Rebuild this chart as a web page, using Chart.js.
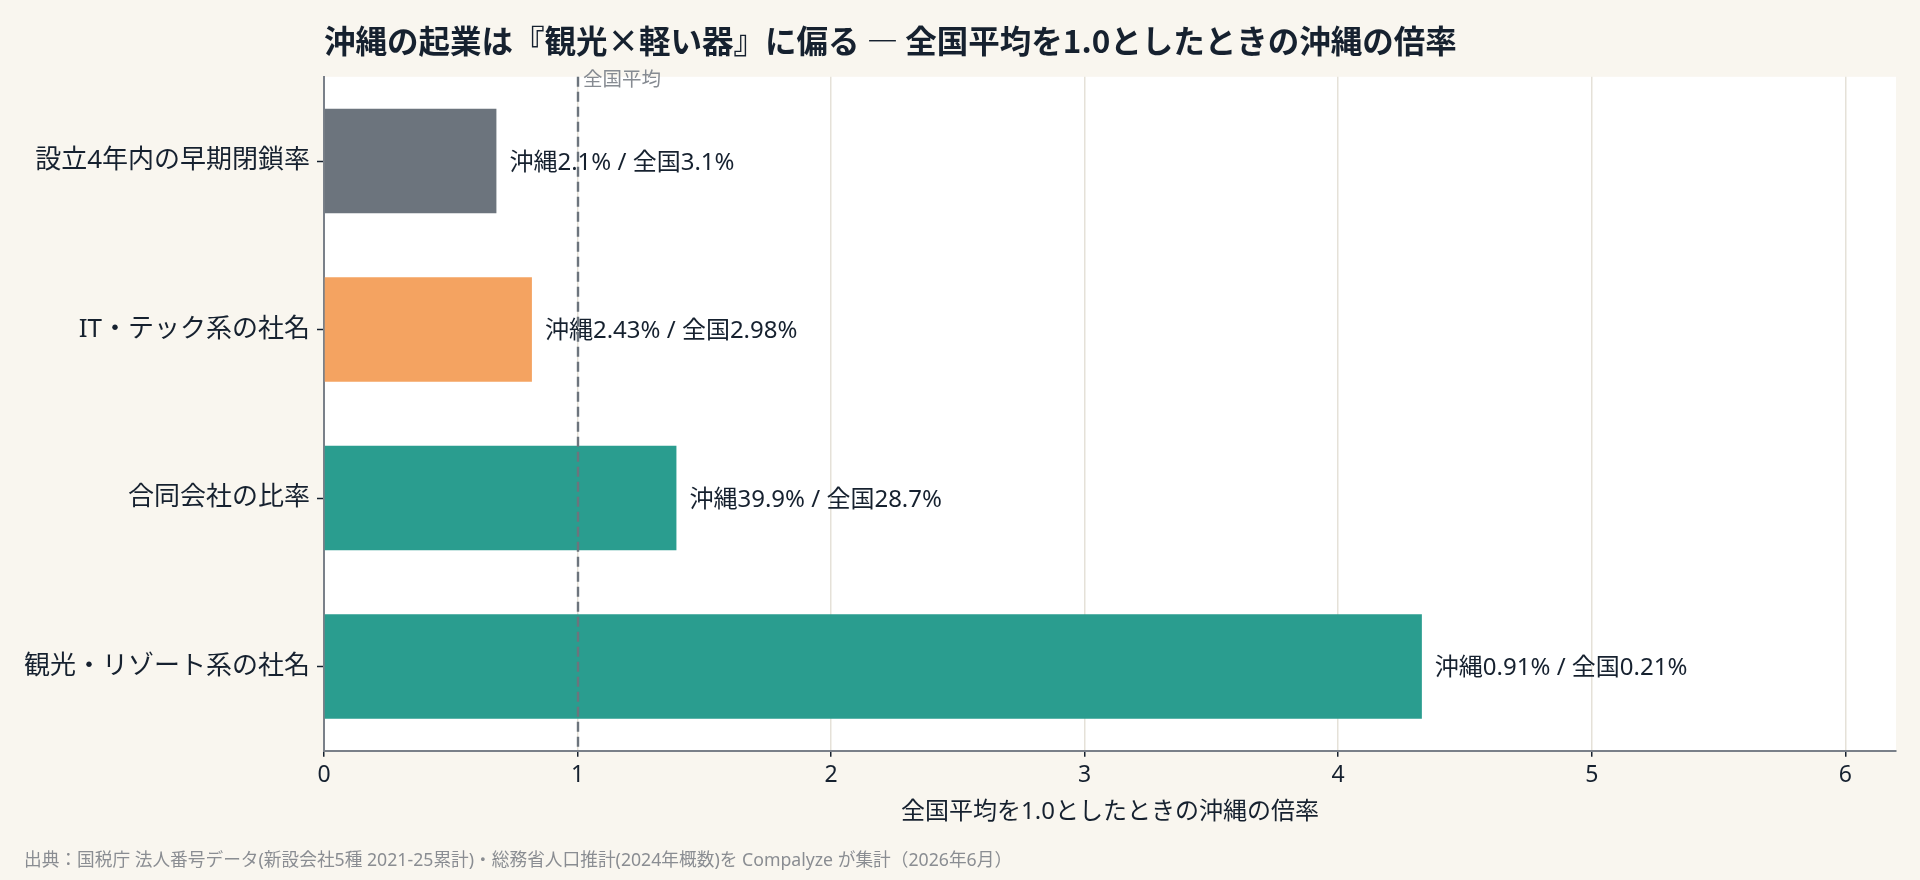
<!DOCTYPE html>
<html lang="ja">
<head>
<meta charset="utf-8">
<script src="https://cdn.jsdelivr.net/npm/chart.js@4/dist/chart.umd.min.js"></script>
<style>
  html, body { margin: 0; padding: 0; background: #f9f6ef; }
  #wrap { width: 1920px; height: 880px; position: relative; }
</style>
</head>
<body>
<div id="wrap"><canvas id="c" width="1920" height="880"></canvas></div>
<script>
// ---- data ----
const categories = ['設立4年内の早期閉鎖率', 'IT・テック系の社名', '合同会社の比率', '観光・リゾート系の社名'];
const ratioToNational = [0.68, 0.82, 1.39, 4.33];
const okinawaPct = [2.1, 2.43, 39.9, 0.91];
const nationalPct = [3.1, 2.98, 28.7, 0.21];
const barColors = ['#6c747d', '#f4a361', '#2a9d8f', '#2a9d8f'];
const xTicks = [0, 1, 2, 3, 4, 5, 6];
const referenceValue = 1;
const referenceLabel = '全国平均';
const titleText = '沖縄の起業は『観光×軽い器』に偏る ― 全国平均を1.0としたときの沖縄の倍率';
const xAxisTitle = '全国平均を1.0としたときの沖縄の倍率';
const sourceText = '出典：国税庁 法人番号データ(新設会社5種 2021-25累計)・総務省人口推計(2024年概数)を Compalyze が集計（2026年6月）';

const valueLabels = okinawaPct.map((v, i) => '沖縄' + v + '% / 全国' + nationalPct[i] + '%');

const FONT = '"Noto Sans", "Noto Sans CJK JP", sans-serif';
const CJK = '"Noto Sans CJK JP", "Noto Sans", sans-serif';
const DARK = '#16212f';

const bgPlugin = {
  id: 'bg',
  beforeDraw(chart) {
    const { ctx, chartArea: a } = chart;
    ctx.save();
    ctx.fillStyle = '#f9f6ef';
    ctx.fillRect(0, 0, chart.width, chart.height);
    ctx.fillStyle = '#ffffff';
    ctx.fillRect(a.left, a.top, a.right - a.left, a.bottom - a.top);
    ctx.restore();
  }
};

const overlayPlugin = {
  id: 'overlay',
  afterDatasetsDraw(chart) {
    const { ctx, chartArea: a } = chart;
    const xs = chart.scales.x;
    const meta = chart.getDatasetMeta(0);
    ctx.save();
    // value labels
    ctx.font = '24px ' + FONT;
    ctx.fillStyle = DARK;
    ctx.textBaseline = 'middle';
    ctx.textAlign = 'left';
    meta.data.forEach((bar, i) => {
      ctx.fillText(valueLabels[i], bar.x + 13, bar.y + 2);
    });
    // reference dashed line
    const px = Math.round(xs.getPixelForValue(referenceValue));
    ctx.strokeStyle = '#6c747d';
    ctx.lineWidth = 2.4;
    ctx.setLineDash([10, 5]);
    ctx.beginPath();
    ctx.moveTo(px, a.top);
    ctx.lineTo(px, a.bottom);
    ctx.stroke();
    ctx.setLineDash([]);
    ctx.font = '19.5px ' + FONT;
    ctx.fillStyle = '#868b92';
    ctx.textBaseline = 'alphabetic';
    ctx.fillText(referenceLabel, px + 5, a.top + 9);
    ctx.restore();
  }
};

new Chart(document.getElementById('c'), {
  type: 'bar',
  data: {
    labels: categories,
    datasets: [{
      data: ratioToNational,
      backgroundColor: barColors,
      borderWidth: 0,
      barPercentage: 0.62,
      categoryPercentage: 1.0
    }]
  },
  options: {
    indexAxis: 'y',
    responsive: false,
    animation: false,
    devicePixelRatio: 1,
    layout: { padding: { left: 24, right: 24, top: 0, bottom: 0 } },
    plugins: {
      legend: { display: false },
      tooltip: { enabled: false },
      title: {
        display: true,
        text: titleText,
        align: 'start',
        fullSize: false,
        color: DARK,
        font: { family: CJK, size: 31.5, weight: 'bold' },
        padding: { top: 22, bottom: 17 }
      },
      subtitle: {
        display: true,
        text: sourceText,
        position: 'bottom',
        align: 'start',
        fullSize: true,
        color: '#8a8d92',
        font: { family: FONT, size: 17.7 },
        padding: { top: 8, bottom: 8 }
      }
    },
    scales: {
      x: {
        type: 'linear',
        min: 0,
        max: 6.2,
        afterBuildTicks: s => { s.ticks = xTicks.map(v => ({ value: v })); },
        afterFit: s => { s.height = 92; },
        ticks: { color: DARK, font: { family: FONT, size: 23 }, padding: 5 },
        grid: { color: '#e5e1d8', lineWidth: 1.5, tickColor: DARK, tickLength: 6, tickWidth: 1.5 },
        border: { color: '#7a8089', width: 2 },
        title: {
          display: true,
          text: xAxisTitle,
          color: DARK,
          font: { family: FONT, size: 24 },
          padding: { top: 0, bottom: 16 }
        }
      },
      y: {
        afterFit: s => { s.width = 300; },
        ticks: { color: DARK, font: { family: FONT, size: 26 }, padding: 7 },
        grid: { offset: false, drawOnChartArea: false, tickColor: DARK, tickLength: 7, tickWidth: 1.5 },
        border: { color: '#7a8089', width: 2 }
      }
    }
  },
  plugins: [bgPlugin, overlayPlugin]
});
</script>
</body>
</html>
